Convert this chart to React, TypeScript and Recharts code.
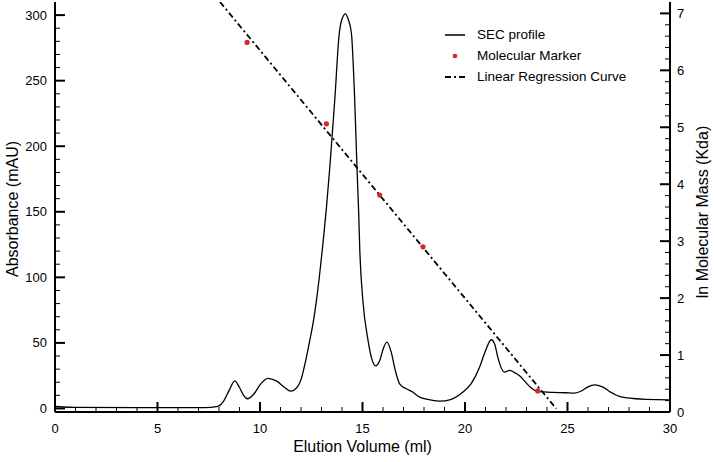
import React from "react";
import { ComposedChart, Line, Scatter, XAxis, YAxis } from "recharts";

// SEC profile, elution volume (ml) vs absorbance (mAU)
const secVolume = [
  0, 0.4, 1, 4, 7, 7.6, 7.94, 8.2, 8.5, 8.77, 9.0, 9.2, 9.39, 9.7, 10.0, 10.39, 10.8, 11.2, 11.5,
  11.7, 11.85, 12.0, 12.12, 12.25, 12.43, 12.6, 12.75, 12.9, 13.08, 13.24, 13.4, 13.52, 13.65, 13.86,
  14.0, 14.17, 14.3, 14.46, 14.62, 14.73, 14.81, 14.87, 15.02, 15.27, 15.45, 15.64, 15.85, 16.0,
  16.19, 16.4, 16.6, 16.81, 17.14, 17.45, 17.79, 18.3, 18.76, 19.3, 19.9, 20.3, 20.71, 21.0, 21.28,
  21.45, 21.6, 21.93, 22.17, 22.4, 22.66, 22.9, 23.15, 23.55, 24.28, 24.9, 25.34, 25.7, 26.0,
  26.32, 26.7, 27.1, 27.53, 28.2, 28.83, 30,
];
const secAbsorbance = [
  1.5, 1.1, 0.8, 0.6, 0.6, 0.8, 1.5, 5, 14, 21, 16, 10, 7.4, 11, 18, 23, 21, 16, 13.2,
  14.5, 17, 22, 29, 38, 52, 66, 82, 101, 127, 153, 183, 208, 236, 285,
  297, 301, 297, 286, 235, 184, 151, 120, 82, 52, 38, 32.5, 37, 45,
  50.6, 43, 29, 18.8, 15, 12.5, 8.6, 6.6, 5.6, 6.8, 12.5, 19, 31.5, 44, 52.4,
  49, 39, 27.7, 29, 27.5, 25, 21, 16.8, 13, 12.2, 12, 11.7, 13.5, 16.5,
  18, 16.5, 12.5, 9.2, 7.6, 6.9, 6.6,
];

// molecular markers, elution volume vs ln molecular mass
const markerVolume = [9.37, 13.24, 15.84, 17.95, 23.55];
const markerLnMass = [6.49, 5.06, 3.81, 2.9, 0.37];

// regression line end points
const fitVolume = [8.05, 24.45];
const fitLnMass = [7.2, 0.06];

const xMajor = [0, 5, 10, 15, 20, 25, 30];
const leftMajor = [0, 50, 100, 150, 200, 250, 300];
const rightMajor = [0, 1, 2, 3, 4, 5, 6, 7];

const xTicks: number[] = [];
for (let i = 0; i <= 30; i++) xTicks.push(i);
const leftTicks: number[] = [];
for (let i = 0; i <= 300; i += 10) leftTicks.push(i);
const rightTicks: number[] = [];
for (let i = 0; i <= 35; i++) rightTicks.push(Math.round(i * 2) / 10);

const secData = secVolume.map((v, i) => ({ v, a: secAbsorbance[i] }));
const markerData = markerVolume.map((v, i) => ({ v, m: markerLnMass[i] }));
const fitData = fitVolume.map((v, i) => ({ v, m: fitLnMass[i] }));

const FONT = "'Liberation Sans', Arial, Helvetica, sans-serif";
const RED = "#d0282c";

const XTick = (props: any) => {
  const { x, y, payload } = props;
  const major = xMajor.includes(payload.value);
  return (
    <g>
      <line x1={x} x2={x} y1={y} y2={y - (major ? 10 : 5)} stroke="#000" strokeWidth={major ? 2 : 1} />
      {major && (
        <text x={x} y={y + 21} textAnchor="middle" fontSize={13} fontFamily={FONT} fill="#000">
          {payload.value}
        </text>
      )}
    </g>
  );
};

const LeftTick = (props: any) => {
  const { x, y, payload } = props;
  const major = leftMajor.includes(payload.value);
  return (
    <g>
      <line x1={x} x2={x + (major ? 10 : 5)} y1={y} y2={y} stroke="#000" strokeWidth={major ? 2 : 1} />
      {major && (
        <text x={x - 8} y={y + 4.5} textAnchor="end" fontSize={13} fontFamily={FONT} fill="#000">
          {payload.value}
        </text>
      )}
    </g>
  );
};

const RightTick = (props: any) => {
  const { x, y, payload } = props;
  const major = rightMajor.includes(payload.value);
  return (
    <g>
      <line x1={x} x2={x - (major ? 10 : 5)} y1={y} y2={y} stroke="#000" strokeWidth={major ? 2 : 1} />
      {major && (
        <text x={x + 7} y={y + 4.5} textAnchor="start" fontSize={13} fontFamily={FONT} fill="#000">
          {payload.value}
        </text>
      )}
    </g>
  );
};

// axis title at a fixed spot; own prop names so the axis does not overwrite them
const Title = ({ tx, ty, rot, text }: { tx: number; ty: number; rot: number; text: string }) => (
  <g transform={`translate(${tx}, ${ty}) rotate(${rot})`}>
    <text x={0} y={0} textAnchor="middle" dominantBaseline="central" fontSize={16} fontFamily={FONT} fill="#000">
      {text}
    </text>
  </g>
);

const MarkerDot = (props: any) => <circle cx={props.cx} cy={props.cy} r={2.6} fill={RED} />;

const legendRows = [
  { label: "SEC profile", kind: "line" },
  { label: "Molecular Marker", kind: "dot" },
  { label: "Linear Regression Curve", kind: "dash" },
];

export default function App() {
  return (
    <div style={{ position: "absolute", left: 0, top: 0, width: 714, height: 462, background: "#fff" }}>
      <ComposedChart width={714} height={462} margin={{ top: 2, right: 0, bottom: 0, left: 0 }}>
        <XAxis
          xAxisId="bottom"
          dataKey="v"
          type="number"
          domain={[0, 30]}
          ticks={xTicks}
          interval={0}
          height={50}
          tickSize={0}
          tickMargin={0}
          tickLine={false}
          tick={<XTick />}
          axisLine={{ stroke: "#000", strokeWidth: 2 }}
          label={<Title tx={362.5} ty={446} rot={0} text="Elution Volume (ml)" />}
        />
        <XAxis
          xAxisId="top"
          orientation="top"
          type="number"
          domain={[0, 30]}
          height={0}
          tick={false}
          tickLine={false}
          axisLine={{ stroke: "#000", strokeWidth: 2 }}
        />
        <YAxis
          yAxisId="left"
          type="number"
          domain={[-2.7, 310]}
          ticks={leftTicks}
          interval={0}
          width={55}
          tickSize={0}
          tickMargin={0}
          tickLine={false}
          tick={<LeftTick />}
          axisLine={{ stroke: "#000", strokeWidth: 2 }}
          label={<Title tx={12} ty={209} rot={-90} text="Absorbance (mAU)" />}
        />
        <YAxis
          yAxisId="right"
          orientation="right"
          type="number"
          domain={[0, 7.2]}
          allowDataOverflow
          ticks={rightTicks}
          interval={0}
          width={44}
          tickSize={0}
          tickMargin={0}
          tickLine={false}
          tick={<RightTick />}
          axisLine={{ stroke: "#000", strokeWidth: 2 }}
          label={<Title tx={702} ty={212} rot={-90} text="ln Molecular Mass (Kda)" />}
        />
        <Line
          xAxisId="bottom"
          yAxisId="left"
          data={secData}
          dataKey="a"
          type="monotone"
          stroke="#000"
          strokeWidth={1.3}
          dot={false}
          activeDot={false}
          isAnimationActive={false}
        />
        <Line
          xAxisId="bottom"
          yAxisId="right"
          data={fitData}
          dataKey="m"
          type="linear"
          stroke="#000"
          strokeWidth={1.8}
          strokeDasharray="6 3 2 3"
          dot={false}
          activeDot={false}
          isAnimationActive={false}
        />
        <Scatter
          xAxisId="bottom"
          yAxisId="right"
          data={markerData}
          dataKey="m"
          shape={<MarkerDot />}
          isAnimationActive={false}
        />
      </ComposedChart>
      <div style={{ position: "absolute", left: 442, top: 24, fontFamily: FONT, fontSize: 13.5, color: "#000" }}>
        {legendRows.map((r) => (
          <div key={r.label} style={{ display: "flex", alignItems: "center", height: 21 }}>
            <svg width={30} height={12} style={{ marginRight: 5 }}>
              {r.kind === "line" && <line x1={3} x2={23} y1={6} y2={6} stroke="#000" strokeWidth={1.5} />}
              {r.kind === "dot" && <circle cx={13} cy={6} r={2.3} fill={RED} />}
              {r.kind === "dash" && (
                <line x1={3} x2={23} y1={6} y2={6} stroke="#000" strokeWidth={1.8} strokeDasharray="6 3 2 3" />
              )}
            </svg>
            <span>{r.label}</span>
          </div>
        ))}
      </div>
    </div>
  );
}
